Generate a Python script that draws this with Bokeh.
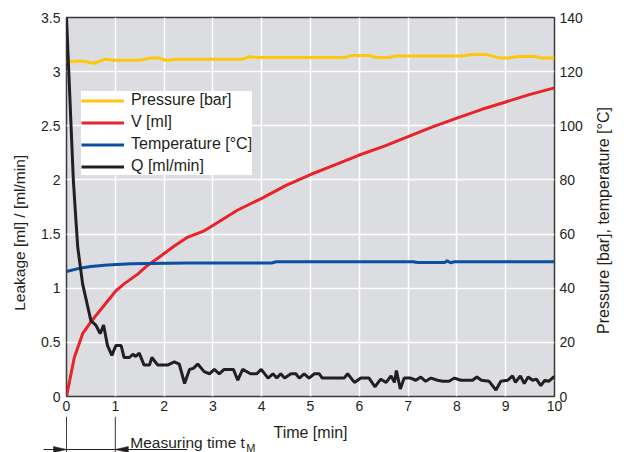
import math
from bokeh.plotting import figure
from bokeh.layouts import column, row
from bokeh.models import (Range1d, LinearAxis, FixedTicker, CustomJSTickFormatter,
                          Legend, LegendItem)
from bokeh.core.properties import value
from bokeh.embed import file_html
from bokeh.resources import INLINE

# ---- data ----
x_ticks = [0, 1, 2, 3, 4, 5, 6, 7, 8, 9, 10]
left_ticks = [0, 0.5, 1, 1.5, 2, 2.5, 3, 3.5]
right_ticks = [0, 20, 40, 60, 80, 100, 120, 140]

# Pressure [bar] (right axis)
p_t = [0, 0.3, 0.56, 0.8, 1.0, 1.5, 1.7, 1.9, 2.04, 2.3, 3.6, 3.76, 3.9, 5.7, 5.85,
       6.2, 6.35, 6.6, 6.75, 8.1, 8.3, 8.6, 8.9, 9.05, 9.25, 9.6, 9.75, 10]
pressure = [123.7, 123.9, 123.1, 124.6, 124.2, 124.2, 125.0, 125.0, 124.2, 124.6, 124.6,
            125.5, 125.2, 125.2, 126.0, 126.0, 125.2, 125.2, 125.8, 125.8, 126.3, 126.3,
            125.0, 125.0, 125.6, 125.6, 125.0, 125.0]

# V [ml] (left axis)
v_t = [0, 0.16, 0.33, 0.5, 0.77, 1.0, 1.18, 1.46, 1.66, 1.94, 2.21, 2.48, 2.82, 3.0,
       3.5, 4.0, 4.5, 5.0, 5.5, 6.0, 6.5, 7.0, 7.5, 8.0, 8.5, 9.0, 9.5, 10.0]
volume = [0, 0.36, 0.58, 0.69, 0.84, 0.97, 1.04, 1.13, 1.21, 1.30, 1.39, 1.47, 1.53, 1.58,
          1.72, 1.83, 1.95, 2.05, 2.14, 2.23, 2.31, 2.40, 2.49, 2.57, 2.65, 2.72, 2.79, 2.85]

# Temperature [°C] (right axis)
temp_t = [0, 0.3, 0.5, 0.84, 1.32, 2.48, 4.2, 4.3, 7.1, 7.2, 7.75, 7.8, 7.87, 7.95, 10]
temperature = [46.2, 47.5, 48.0, 48.6, 49.0, 49.3, 49.3, 49.8, 49.8, 49.5, 49.5, 50.1,
               49.4, 49.8, 49.8]

# Q [ml/min] (left axis)
q_t = [0, 0.14, 0.19, 0.23, 0.33, 0.5, 0.6, 0.69, 0.76, 0.84, 0.93, 1.01, 1.12, 1.18,
       1.29, 1.36, 1.42, 1.49, 1.59, 1.70, 1.75, 1.87, 2.07, 2.21, 2.31, 2.42, 2.52, 2.6,
       2.69, 2.82, 2.93, 3.03, 3.13, 3.23, 3.42, 3.51, 3.61, 3.77, 3.9, 3.99, 4.13, 4.23,
       4.31, 4.39, 4.47, 4.6, 4.7, 4.77, 4.87, 4.97, 5.08, 5.18, 5.24, 5.69, 5.76, 5.9,
       6.03, 6.2, 6.32, 6.44, 6.55, 6.65, 6.72, 6.76, 6.84, 6.92, 7.05, 7.16, 7.26, 7.36,
       7.47, 7.6, 7.71, 7.84, 7.95, 8.08, 8.32, 8.41, 8.5, 8.66, 8.8, 8.9, 9.04, 9.14,
       9.2, 9.3, 9.38, 9.46, 9.55, 9.63, 9.72, 9.8, 9.88, 9.98, 10.0]
flow = [3.5, 2.0, 1.65, 1.38, 1.04, 0.70, 0.66, 0.58, 0.66, 0.47, 0.38, 0.47, 0.47, 0.36,
        0.36, 0.39, 0.37, 0.40, 0.29, 0.29, 0.36, 0.29, 0.29, 0.32, 0.30, 0.12, 0.25, 0.26,
        0.30, 0.23, 0.21, 0.25, 0.21, 0.25, 0.25, 0.15, 0.25, 0.21, 0.21, 0.25, 0.17, 0.21,
        0.17, 0.21, 0.17, 0.21, 0.21, 0.17, 0.21, 0.17, 0.21, 0.21, 0.17, 0.17, 0.21, 0.13,
        0.17, 0.17, 0.09, 0.16, 0.13, 0.19, 0.13, 0.24, 0.07, 0.17, 0.17, 0.15, 0.18, 0.14,
        0.17, 0.15, 0.14, 0.14, 0.17, 0.15, 0.15, 0.18, 0.15, 0.14, 0.06, 0.14, 0.15, 0.19,
        0.13, 0.19, 0.12, 0.18, 0.15, 0.16, 0.10, 0.15, 0.14, 0.18, 0.18]

# measuring time interval [min]
t_measure = [0, 1]

labels = ["Pressure [bar]", "V [ml]", "Temperature [°C]", "Q [ml/min]"]
colors = ["#FFC60B", "#E8232A", "#0B4EA2", "#231F20"]
x_title = "Time [min]"
y_title_left = "Leakage [ml] / [ml/min]"
y_title_right = "Pressure [bar], temperature [°C]"
measure_text = "Measuring time t"
measure_sub = "M"

FONT = "Liberation Sans"
TXT = "#231F20"

# ---- layout geometry (pixels) ----
W_TOTAL, H_TOTAL = 624, 452
W_RIGHT = 34                      # strip holding the right-hand title
W = W_TOTAL - W_RIGHT
BORDER_L, BORDER_R, BORDER_T, BORDER_B = 66, 36, 17, 20
H_MAIN = 416
H_ANNOT = H_TOTAL - H_MAIN
PX_PER_MIN = (W - BORDER_L - BORDER_R) / (x_ticks[-1] - x_ticks[0])
RIGHT_TITLE_X, RIGHT_TITLE_Y = 13, H_TOTAL - 220

p = figure(width=W, height=H_MAIN, output_backend="svg", toolbar_location=None,
           x_range=Range1d(x_ticks[0], x_ticks[-1]),
           y_range=Range1d(left_ticks[0], left_ticks[-1]),
           min_border_left=BORDER_L, min_border_right=BORDER_R,
           min_border_top=BORDER_T, min_border_bottom=BORDER_B)
p.extra_y_ranges = {"right": Range1d(right_ticks[0], right_ticks[-1])}

p.background_fill_color = "#DCDDE0"
p.border_fill_color = "white"
p.outline_line_color = "#3A3A3A"
p.outline_line_width = 1.5

p.xgrid.ticker = FixedTicker(ticks=x_ticks)
p.ygrid.ticker = FixedTicker(ticks=left_ticks)
for g in (p.xgrid, p.ygrid):
    g.grid_line_color = "white"
    g.grid_line_width = 1.5

right_axis = LinearAxis(y_range_name="right", ticker=FixedTicker(ticks=right_ticks))
p.add_layout(right_axis, "right")

p.xaxis.ticker = FixedTicker(ticks=x_ticks)
p.yaxis[0].ticker = FixedTicker(ticks=left_ticks)
p.yaxis[0].formatter = CustomJSTickFormatter(code="return tick.toString();")

# trailing no-break spaces shift the centred title downwards as in the original
p.yaxis[0].axis_label = y_title_left + "\u00a0" * 12

for ax in [p.xaxis[0], p.yaxis[0], right_axis]:
    ax.axis_line_color = None
    ax.major_tick_line_color = None
    ax.minor_tick_line_color = None
    ax.major_tick_out = 0
    ax.major_tick_in = 0
    ax.major_label_text_font = FONT
    ax.major_label_text_font_size = "14px"
    ax.major_label_text_color = TXT
    ax.axis_label_text_font = FONT
    ax.axis_label_text_font_style = "normal"
    ax.axis_label_text_color = TXT
p.yaxis[0].axis_label_text_font_size = "15.5px"
p.xaxis.major_label_standoff = 4
p.yaxis[0].major_label_standoff = 6
p.yaxis[0].axis_label_standoff = 10
right_axis.major_label_standoff = 5

r_p = p.line(p_t, pressure, y_range_name="right", line_color=colors[0], line_width=3)
r_v = p.line(v_t, volume, line_color=colors[1], line_width=3)
r_t = p.line(temp_t, temperature, y_range_name="right", line_color=colors[2], line_width=3)
r_q = p.line(q_t, flow, line_color=colors[3], line_width=3)

legend = Legend(items=[LegendItem(label=labels[0], renderers=[r_p]),
                       LegendItem(label=labels[1], renderers=[r_v]),
                       LegendItem(label=labels[2], renderers=[r_t]),
                       LegendItem(label=labels[3], renderers=[r_q])],
                location=(15, 221), background_fill_color="white", background_fill_alpha=1,
                border_line_color=None, padding=7, spacing=4, label_height=15,
                glyph_height=15, glyph_width=43, label_standoff=7, margin=0,
                label_text_font=FONT, label_text_font_size="16px", label_text_color=TXT)
p.add_layout(legend, "center")


def strip(width, height, x_start, x_end, y_start, y_end):
    f = figure(width=width, height=height, output_backend="svg", toolbar_location=None,
               x_range=Range1d(x_start, x_end), y_range=Range1d(y_start, y_end),
               x_axis_type=None, y_axis_type=None, min_border=0)
    try:
        f.frame_align = False
    except AttributeError:
        pass
    f.outline_line_color = None
    f.background_fill_color = "white"
    f.border_fill_color = "white"
    return f


# ---- strip below the chart: x title and the measuring-time dimension ----
x0 = x_ticks[0] - BORDER_L / PX_PER_MIN
a = strip(W, H_ANNOT, x0, x0 + W / PX_PER_MIN, 0, H_ANNOT)

y_dim = 3           # px above the bottom of the strip
head_len = 13 / PX_PER_MIN
head_w = 3
t0, t1 = t_measure
a.segment(x0=t_measure, y0=[H_ANNOT] * 2, x1=t_measure, y1=[0] * 2,
          line_color="#3A3A3A", line_width=1)
a.segment(x0=[t0 - 23 / PX_PER_MIN], y0=[y_dim], x1=[t1 + 72 / PX_PER_MIN], y1=[y_dim],
          line_color=TXT, line_width=1)
a.patches(xs=[[t0 - head_len, t0, t0 - head_len], [t1 + head_len, t1, t1 + head_len]],
          ys=[[y_dim + head_w, y_dim, y_dim - head_w]] * 2,
          fill_color=TXT, line_color=TXT, line_width=0.5)
a.text(x=[t1 + 15 / PX_PER_MIN], y=[y_dim + 7], text=[measure_text],
       text_font=value(FONT), text_font_size="15.5px", text_color=TXT,
       text_baseline="alphabetic", text_align="left")
a.text(x=[t1 + 131 / PX_PER_MIN], y=[y_dim + 2], text=[measure_sub],
       text_font=value(FONT), text_font_size="11px", text_color=TXT,
       text_baseline="alphabetic", text_align="left")
a.text(x=[(x_ticks[0] + x_ticks[-1]) / 2], y=[H_ANNOT - 16], text=[x_title],
       text_font=value(FONT), text_font_size="16px", text_color=TXT,
       text_baseline="middle", text_align="center")

# ---- strip on the right: right-hand axis title, reading bottom to top ----
r = strip(W_RIGHT, H_TOTAL, 0, W_RIGHT, 0, H_TOTAL)
r.text(x=[RIGHT_TITLE_X], y=[RIGHT_TITLE_Y], text=[y_title_right], angle=math.pi / 2,
       text_font=value(FONT), text_font_size="16px", text_color=TXT,
       text_baseline="middle", text_align="center")

layout = row(column(p, a, spacing=0), r, spacing=0)
open("out.html", "w").write(file_html(layout, INLINE))
